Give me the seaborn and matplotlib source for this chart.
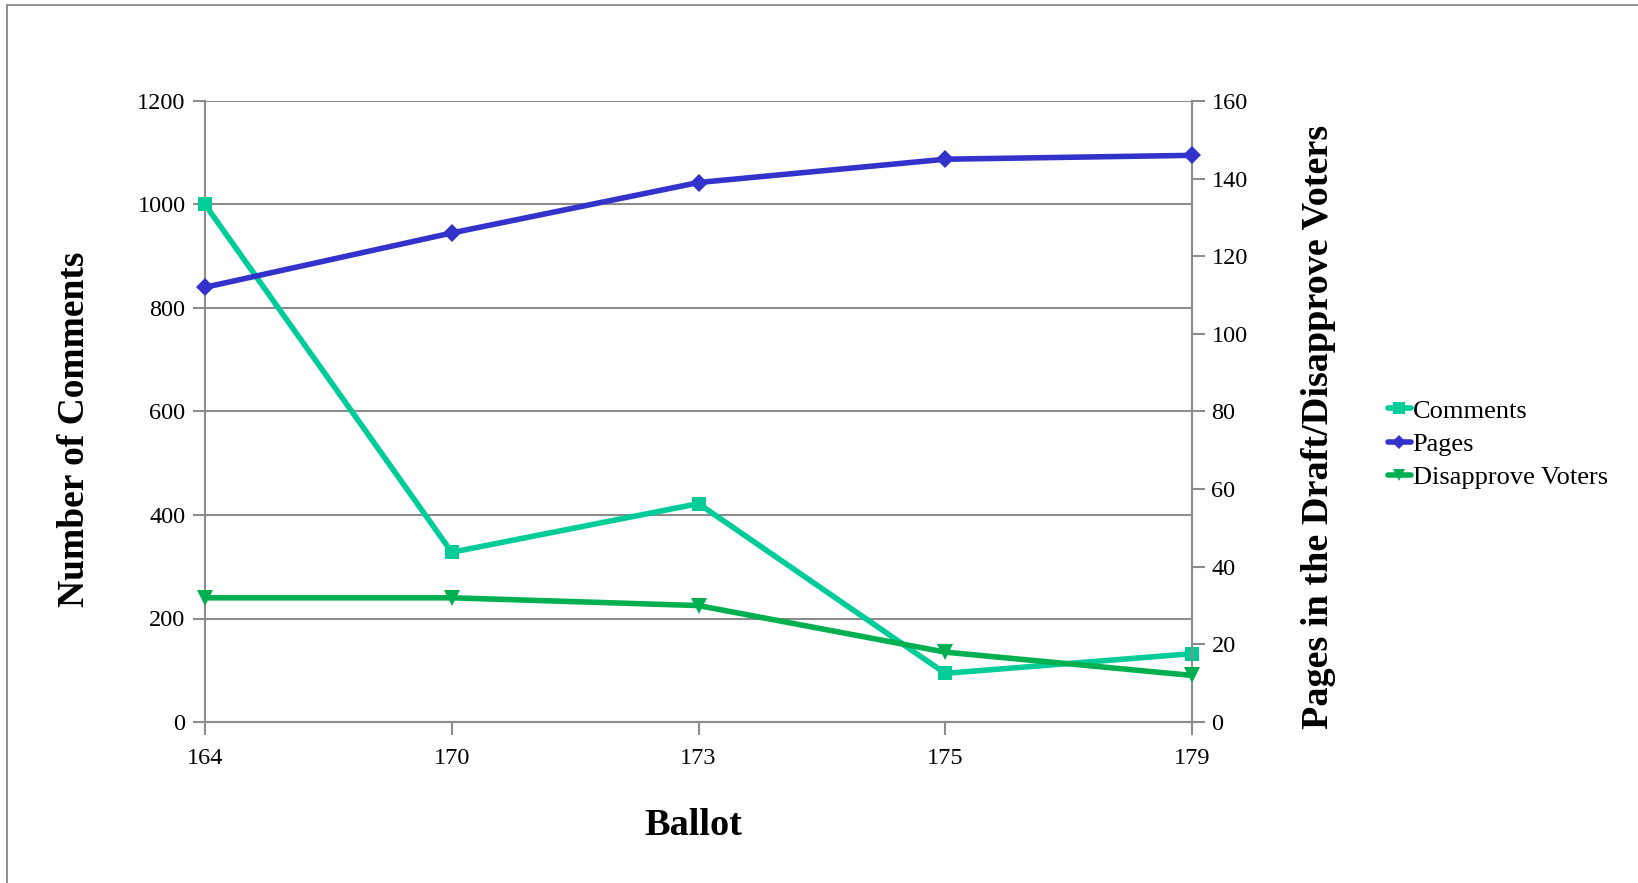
import matplotlib
matplotlib.use("Agg")
import matplotlib.pyplot as plt
import seaborn as sns
import pandas as pd
from matplotlib.lines import Line2D

# Ballot data
ballots = ["164", "170", "173", "175", "179"]
comments = [1000, 328, 422, 94, 132]
pages = [112, 126, 139, 145, 146]
disapprove_voters = [32, 32, 30, 18, 12]

sns.set_theme(style="white")
plt.rcParams["font.family"] = ["Liberation Serif", "DejaVu Serif"]
plt.rcParams["text.color"] = "black"
plt.rcParams["axes.labelcolor"] = "black"

df = pd.DataFrame({"Ballot": ballots, "Comments": comments,
                   "Pages": pages, "Disapprove Voters": disapprove_voters})

C_COMMENTS = "#00CC99"
C_PAGES = "#3333CC"
C_VOTERS = "#00B050"
GRID = "#8c8c8c"
LW = 4

fig = plt.figure(figsize=(16.38, 8.83), dpi=100)
ax = fig.add_axes([205 / 1638, 1 - 722 / 883, (1192 - 205) / 1638, (722 - 101) / 883])
ax2 = ax.twinx()

sns.lineplot(data=df, x="Ballot", y="Comments", ax=ax, sort=False,
             color=C_COMMENTS, linewidth=LW, marker="s", markersize=10,
             markeredgewidth=0, zorder=3, clip_on=False)
sns.lineplot(data=df, x="Ballot", y="Pages", ax=ax2, sort=False,
             color=C_PAGES, linewidth=LW, marker="D", markersize=9,
             markeredgewidth=0, zorder=3, clip_on=False)
sns.lineplot(data=df, x="Ballot", y="Disapprove Voters", ax=ax2, sort=False,
             color=C_VOTERS, linewidth=LW, marker="v", markersize=11,
             markeredgewidth=0, zorder=3, clip_on=False)

ax.set_xlim(0, len(ballots) - 1)
ax.set_ylim(0, 1200)
ax.set_yticks(range(0, 1201, 200))
ax2.set_ylim(0, 160)
ax2.set_yticks(range(0, 161, 20))
ax.set_xticks(range(len(ballots)))
ax.set_xticklabels(ballots)

ax.grid(axis="y", color=GRID, linewidth=1.5)
ax.grid(axis="x", visible=False)
ax2.grid(False)
ax.set_zorder(0)
ax2.set_zorder(1)
ax2.patch.set_visible(False)

for a in (ax, ax2):
    for s in a.spines.values():
        s.set_visible(False)
ax.spines["left"].set_visible(True)
ax.spines["bottom"].set_visible(True)
ax2.spines["right"].set_visible(True)
for s in (ax.spines["left"], ax.spines["bottom"], ax2.spines["right"]):
    s.set_color(GRID)
    s.set_linewidth(1.5)

tick_kw = dict(labelsize=17.5, length=9, width=1.5, color=GRID, labelcolor="black", direction="out")
ax.tick_params(axis="both", left=True, bottom=True, pad=5, **tick_kw)
ax2.tick_params(axis="y", right=True, pad=5, **tick_kw)
ax.tick_params(axis="x", pad=10)

ax.set_xlabel("Ballot", fontsize=27.5, fontweight="bold")
ax.set_ylabel("Number of Comments", fontsize=27, fontweight="bold")
ax2.set_ylabel("Pages in the Draft/Disapprove Voters", fontsize=27.5, fontweight="bold")
ax.xaxis.set_label_coords(0.495, -0.138)
ax.yaxis.set_label_coords(-0.114, 0.472)
ax2.yaxis.set_label_coords(1.110, 0.475)

handles = [
    Line2D([], [], color=C_COMMENTS, linewidth=LW, marker="s", markersize=8, markeredgewidth=0),
    Line2D([], [], color=C_PAGES, linewidth=LW, marker="D", markersize=7, markeredgewidth=0),
    Line2D([], [], color=C_VOTERS, linewidth=LW, marker="v", markersize=9, markeredgewidth=0),
]
fig.legend(handles, ["Comments", "Pages", "Disapprove Voters"],
           loc="center left", bbox_to_anchor=(1377 / 1638, 1 - 444 / 883),
           frameon=False, fontsize=19, handlelength=0.9, handletextpad=0.05,
           labelspacing=0.37, borderaxespad=0)

# outer frame (top and left edges)
fig.add_artist(Line2D([7 / 1638, 7 / 1638], [0, 1 - 5 / 883], transform=fig.transFigure,
                      color="#808080", linewidth=1.2))
fig.add_artist(Line2D([7 / 1638, 1], [1 - 5 / 883, 1 - 5 / 883], transform=fig.transFigure,
                      color="#808080", linewidth=1.2))

fig.savefig("out.png", dpi=100, facecolor="white")
